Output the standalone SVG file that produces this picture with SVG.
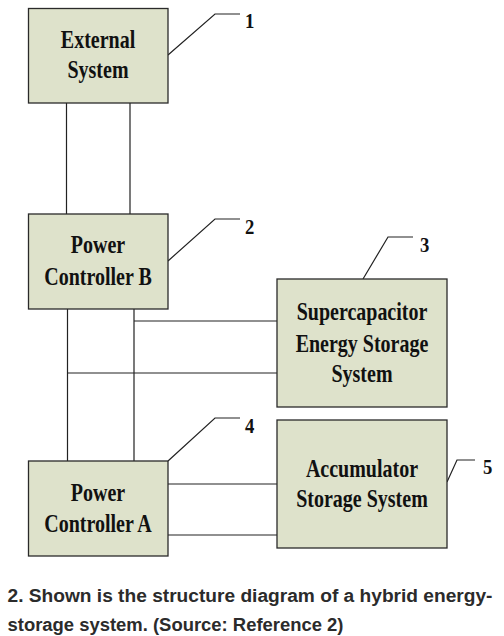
<svg xmlns="http://www.w3.org/2000/svg" width="504" height="636" viewBox="0 0 504 636">
<style>
.box{fill:#dee2cb;stroke:#2a2a2a;stroke-width:1.3}
.ln{fill:none;stroke:#222;stroke-width:1.2}
.lbl{font-family:"Liberation Serif","Times New Roman",serif;font-weight:bold;font-size:25px;fill:#111;text-anchor:middle}
.num{font-family:"Liberation Serif","Times New Roman",serif;font-weight:bold;font-size:22px;fill:#111}
.cap{font-family:"Liberation Sans",Arial,sans-serif;font-weight:bold;font-size:18px;fill:#2b2b2b}
</style>
<rect width="504" height="636" fill="#ffffff"/>
<g id="connectors">
<path class="ln" d="M66.5,103 V214 M130,103 V214"/>
<path class="ln" d="M67.5,309 V461 M134,309 V461"/>
<path class="ln" d="M134,321 H277 M67.5,373 H277"/>
<path class="ln" d="M168,484 H277 M168,535 H277"/>
</g>
<g id="leaders">
<path class="ln" d="M168,55 L215,14 H240"/>
<path class="ln" d="M168,261 L215,219 H240"/>
<path class="ln" d="M363,279 L388,237 H413"/>
<path class="ln" d="M168,461 L215,418 H240"/>
<path class="ln" d="M447,482 L457,460 H475"/>
</g>
<g id="external-system">
<rect class="box" x="28.5" y="8.5" width="139.5" height="94.5"/>
<text class="lbl" transform="translate(98,48) scale(0.8,1)">External</text>
<text class="lbl" transform="translate(98,77.5) scale(0.8,1)">System</text>
</g>
<g id="power-controller-b">
<rect class="box" x="28.5" y="214" width="139.5" height="95"/>
<text class="lbl" transform="translate(98,253) scale(0.8,1)">Power</text>
<text class="lbl" transform="translate(98,285) scale(0.8,1)">Controller B</text>
</g>
<g id="supercapacitor">
<rect class="box" x="277" y="279" width="170" height="128"/>
<text class="lbl" transform="translate(362,320) scale(0.8,1)">Supercapacitor</text>
<text class="lbl" transform="translate(362,352) scale(0.8,1)">Energy Storage</text>
<text class="lbl" transform="translate(362,382) scale(0.8,1)">System</text>
</g>
<g id="accumulator">
<rect class="box" x="277" y="420" width="170" height="128"/>
<text class="lbl" transform="translate(362,477) scale(0.8,1)">Accumulator</text>
<text class="lbl" transform="translate(362,507) scale(0.8,1)">Storage System</text>
</g>
<g id="power-controller-a">
<rect class="box" x="28.5" y="461" width="139.5" height="95"/>
<text class="lbl" transform="translate(98,501) scale(0.8,1)">Power</text>
<text class="lbl" transform="translate(98,532) scale(0.8,1)">Controller A</text>
</g>
<g id="numbers">
<text class="num" transform="translate(245,28) scale(0.85,1)">1</text>
<text class="num" transform="translate(245,234) scale(0.85,1)">2</text>
<text class="num" transform="translate(420,252) scale(0.85,1)">3</text>
<text class="num" transform="translate(245,433) scale(0.85,1)">4</text>
<text class="num" transform="translate(483,474) scale(0.85,1)">5</text>
</g>
<g id="caption">
<text class="cap" x="7.5" y="602" textLength="485" lengthAdjust="spacingAndGlyphs">2. Shown is the structure diagram of a hybrid energy-</text>
<text class="cap" x="7.5" y="631" textLength="336" lengthAdjust="spacingAndGlyphs">storage system. (Source: Reference 2)</text>
</g>
</svg>
